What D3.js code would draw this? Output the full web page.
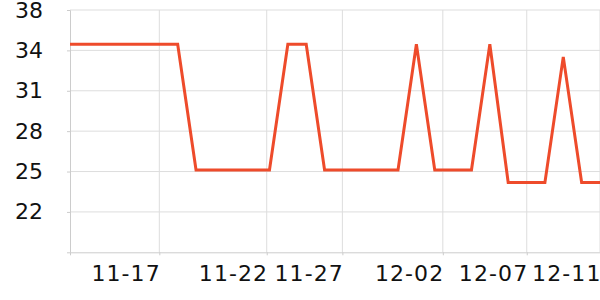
<!DOCTYPE html>
<html>
<head>
<meta charset="utf-8">
<title>line</title>
<script src="https://cdn.jsdelivr.net/npm/d3@7"></script>
<style>
body{margin:0;background:#fff;}
svg{display:block;}
.axis path,.axis line{stroke:#ccc;}
.grid line{stroke:#ddd;}
</style>
</head>
<body>
<script>
// day index (0 = 11-12) and value per day
var days = [0,1,2,3,4,5,6,7,8,9,10,11,12,13,14,15,16,17,18,19,20,21,22,23,24,25,26,27,28,29];
var temps = [35,35,35,35,35,35,35,25,25,25,25,25,35,35,25,25,25,25,25,35,25,25,25,35,24,24,24,34,24,24];

// x ticks (day index where each label sits) and their labels
var xTicks = [5,10.85,14.97,20.44,25.01,29];
var xLabels = ["11-17","11-22","11-27","12-02","12-07","12-11"];
var yLabels = ["38","34","31","28","25","22"];

var width = 600, height = 300,
	pLeft = 70, pRight = 600, pTop = 10, pBottom = 252.3;
var xMin = 0.136, xMax = 29, yMin = 18.45, yMax = 37.73;

var x = d3.scaleLinear().domain([xMin,xMax]).range([pLeft,pRight]);
var y = d3.scaleLinear().domain([yMin,yMax]).range([pBottom,pTop]);
var yTicks = d3.range(6).map(function(k){ return yMax - k*(yMax-yMin)/6; });

var svg = d3.select("body").append("svg")
	.attr("width",width)
	.attr("height",height);

svg.append("defs").append("clipPath").attr("id","clip")
	.append("rect").attr("x",pLeft).attr("y",0)
	.attr("width",pRight-pLeft).attr("height",height);

// grid
svg.append("g").attr("class","grid")
	.selectAll("line").data(yTicks).enter().append("line")
	.attr("x1",pLeft).attr("x2",pRight)
	.attr("y1",function(d){return y(d);}).attr("y2",function(d){return y(d);});
svg.append("g").attr("class","grid")
	.selectAll("line").data(xTicks).enter().append("line")
	.attr("x1",function(d){return x(d);}).attr("x2",function(d){return x(d);})
	.attr("y1",pTop).attr("y2",pBottom);

var xAxis = d3.axisBottom(x)
	.tickValues(xTicks)
	.tickFormat(function(d,i){return xLabels[i];})
	.tickSizeInner(3).tickSizeOuter(3);
var gx = svg.append("g").attr("class","axis")
	.attr("transform","translate(0,"+pBottom+")")
	.call(xAxis)
	.attr("font-family","DejaVu Sans")
	.attr("font-size",22);
gx.selectAll("text")
	.attr("text-anchor","end")
	.attr("x",1)
	.attr("y",13)
	.style("letter-spacing","1.1px")
	.style("fill","#111");

var yAxis = d3.axisLeft(y)
	.tickValues(yTicks)
	.tickFormat(function(d,i){return yLabels[i];})
	.tickSizeInner(3).tickSizeOuter(3);
var gy = svg.append("g").attr("class","axis")
	.attr("transform","translate("+pLeft+",0)")
	.call(yAxis)
	.attr("font-family","DejaVu Sans")
	.attr("font-size",22);
gy.selectAll("text")
	.attr("x",-27)
	.style("fill","#111");

var line = d3.line()
	.x(function(d,i){return x(days[i]);})
	.y(function(d){return y(d);});

svg.append("path")
	.datum(temps)
	.attr("clip-path","url(#clip)")
	.attr("fill","none")
	.attr("stroke","#ee4b2b")
	.attr("stroke-width",3)
	.attr("d",line);
</script>
</body>
</html>
